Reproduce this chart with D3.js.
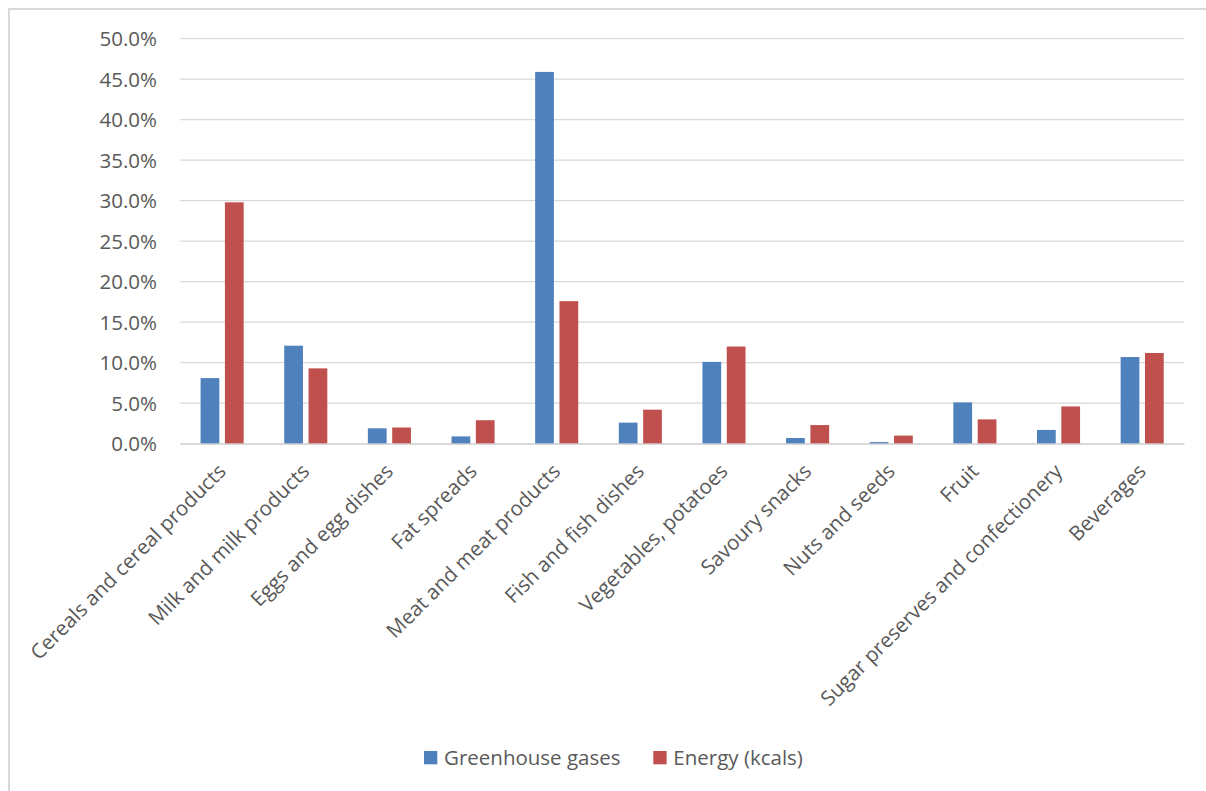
<!DOCTYPE html>
<html>
<head>
<meta charset="utf-8">
<script src="https://cdn.jsdelivr.net/npm/d3@7"></script>
<style>
  html, body { margin: 0; padding: 0; background: #fff; }
  svg { display: block; }
  text { font-family: "Open Sans", sans-serif; fill: #595959; }
</style>
</head>
<body>
<svg id="chart" width="1206" height="791"></svg>
<script>
// Share of greenhouse gases and of energy by food group
const categories = [
  "Cereals and cereal products",
  "Milk and milk products",
  "Eggs and egg dishes",
  "Fat spreads",
  "Meat and meat products",
  "Fish and fish dishes",
  "Vegetables, potatoes",
  "Savoury snacks",
  "Nuts and seeds",
  "Fruit",
  "Sugar preserves and confectionery",
  "Beverages"
];
const greenhouseGases = [8.1, 12.1, 1.9, 0.9, 45.9, 2.6, 10.1, 0.7, 0.2, 5.1, 1.7, 10.7];
const energyKcals     = [29.8, 9.3, 2.0, 2.9, 17.6, 4.2, 12.0, 2.3, 1.0, 3.0, 4.6, 11.2];
const seriesNames = ["Greenhouse gases", "Energy (kcals)"];
const seriesColors = ["#4F81BD", "#C0504D"];
const yTicks = [0, 5, 10, 15, 20, 25, 30, 35, 40, 45, 50];

const svg = d3.select("#chart");

// outer chart frame
svg.append("rect")
  .attr("x", 9).attr("y", 9)
  .attr("width", 1220).attr("height", 820)
  .attr("fill", "none")
  .attr("stroke", "#d9d9d9")
  .attr("stroke-width", 2);

const plot = { left: 180.3, right: 1184, top: 38.7, bottom: 443.7 };

const y = d3.scaleLinear().domain([0, 50]).range([plot.bottom, plot.top]);
const x0 = d3.scaleBand().domain(categories).range([plot.left, plot.right]).paddingInner(0.485).paddingOuter(0.2425);
const x1 = d3.scaleBand().domain(seriesNames).range([0, x0.bandwidth()]).paddingInner(0.23);

// horizontal gridlines
svg.append("g")
  .selectAll("line")
  .data(yTicks)
  .join("line")
  .attr("x1", plot.left).attr("x2", plot.right)
  .attr("y1", d => y(d)).attr("y2", d => y(d))
  .attr("stroke", "#d9d9d9")
  .attr("stroke-width", 1.3);

// y axis labels
const yAxis = d3.axisLeft(y).tickValues(yTicks).tickFormat(d => d3.format(".1f")(d) + "%").tickSize(0).tickPadding(0);
const gy = svg.append("g")
  .attr("transform", `translate(157,0)`)
  .call(yAxis);
gy.select(".domain").remove();
gy.selectAll("text")
  .attr("font-size", 20.5)
  .attr("font-family", "Open Sans, sans-serif")
  .attr("fill", "#595959")
  .attr("dy", "0.34em");

// bars
const rows = categories.map((c, i) => ({ cat: c, vals: [greenhouseGases[i], energyKcals[i]] }));
const groups = svg.append("g")
  .selectAll("g")
  .data(rows)
  .join("g")
  .attr("transform", d => `translate(${x0(d.cat)},0)`);

groups.selectAll("rect")
  .data(d => d.vals.map((v, k) => ({ v, k })))
  .join("rect")
  .attr("x", d => x1(seriesNames[d.k]))
  .attr("width", x1.bandwidth())
  .attr("y", d => y(d.v))
  .attr("height", d => y(0) - y(d.v))
  .attr("fill", d => seriesColors[d.k]);

// category axis
const xAxis = d3.axisBottom(x0).tickSize(0).tickPadding(0);
const gx = svg.append("g")
  .attr("transform", `translate(0,${plot.bottom})`)
  .call(xAxis);
gx.select(".domain")
  .attr("stroke", "#d9d9d9")
  .attr("stroke-width", 1.5);
gx.selectAll(".tick text")
  .attr("font-size", 20.5)
  .attr("font-family", "Open Sans, sans-serif")
  .attr("fill", "#595959")
  .attr("text-anchor", "end")
  .attr("dy", null)
  .attr("y", 0)
  .attr("transform", "translate(5,29) rotate(-45)");

// legend
const legend = svg.append("g");
const legendItems = [
  { name: seriesNames[0], color: seriesColors[0], x: 424 },
  { name: seriesNames[1], color: seriesColors[1], x: 653.3 }
];
legend.selectAll("rect")
  .data(legendItems)
  .join("rect")
  .attr("x", d => d.x).attr("y", 751)
  .attr("width", 13.3).attr("height", 13.3)
  .attr("fill", d => d.color);
legend.selectAll("text")
  .data(legendItems)
  .join("text")
  .attr("x", d => d.x + 20)
  .attr("y", 765)
  .attr("font-size", 20.5)
  .text(d => d.name);
</script>
</body>
</html>
